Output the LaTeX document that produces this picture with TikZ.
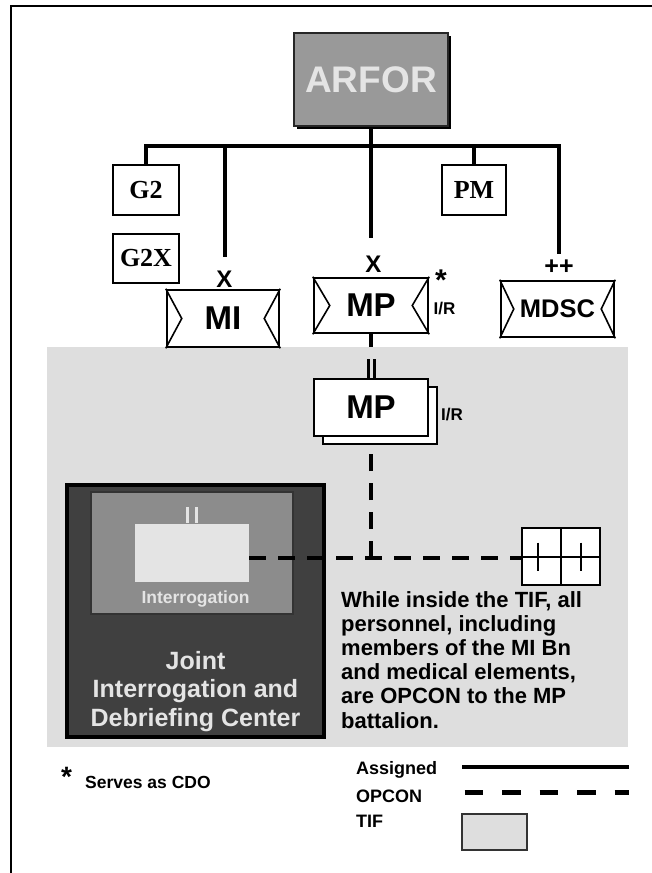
\documentclass[tikz,border=0pt]{standalone}
\usepackage{fontspec}
\setmainfont{Liberation Sans}
\newfontfamily\serifb{Liberation Serif}
\usetikzlibrary{calc}
\definecolor{tifgray}{HTML}{DEDEDE}
\definecolor{jidcdark}{HTML}{404040}
\definecolor{intgray}{HTML}{8C8C8C}
\definecolor{lightrect}{HTML}{E4E4E4}
\definecolor{textlight}{HTML}{E4E4E4}
\definecolor{arforgray}{HTML}{999999}
\newcommand\unitnotch[2]{%
  \draw[line width=1.6pt] (#1.north west) -- ($(#1.west)+(#2,0)$) -- (#1.south west);
  \draw[line width=1.6pt] (#1.north east) -- ($(#1.east)-(#2,0)$) -- (#1.south east);}
\tikzset{
  assigned/.style={line width=4pt, black},
  opcon/.style={line width=4.5pt, black, dash pattern=on 17pt off 12pt},
  staffbox/.style={draw, line width=2pt, fill=white, minimum width=66pt, minimum height=50pt, inner sep=0pt, font=\serifb\bfseries\fontsize{26}{26}\selectfont},
  unitbox/.style={draw, line width=2.5pt, fill=white, minimum width=113pt, minimum height=56pt, inner sep=0pt, font=\bfseries\fontsize{33}{33}\selectfont},
  lbl/.style={inner sep=0pt, font=\bfseries\fontsize{#1}{#1}\selectfont},
}
\begin{document}
\begin{tikzpicture}[x=1pt, y=-1pt]
\useasboundingbox (0,0) rectangle (652,873);
% TIF region
\fill[tifgray] (47,347) rectangle (628,747);
% frame
\draw[line width=2pt] (11,873) -- (11,6) -- (652,6);
% ARFOR
\fill[black] (297,36) rectangle (451,129);
\node (arfor) [draw=black!85, line width=2pt, fill=arforgray, minimum width=154pt, minimum height=93pt, inner sep=0pt, text=textlight, font=\bfseries\fontsize{37}{37}\selectfont] at (371,79.5) {ARFOR};
% staff
\node (g2) [staffbox] at (146,190) {G2};
\node (g2x) [staffbox, minimum height=49pt] at (146,258.5) {G2X};
\node (pm) [staffbox, minimum width=64pt] at (474,190) {PM};
% units
\node (mi) [unitbox, minimum width=112pt, minimum height=57pt] at (223,318.5) {MI};
\unitnotch{mi}{16}
\node (mp) [unitbox, minimum width=114pt, minimum height=55pt] at (371,305.5) {MP};
\unitnotch{mp}{17}
\node (mdsc) [unitbox, font=\bfseries\fontsize{25.5}{25.5}\selectfont] at (557.5,309) {MDSC};
\unitnotch{mdsc}{14}
% echelon labels
\node (xmi) [lbl=24] at (224.5,279) {X};
\node (xmp) [lbl=24] at (373.5,264) {X};
\node (ppmdsc) [lbl=25] at (559,267) {++};
\node (starmp) [lbl=30, anchor=north] at (441,270) {*};
\node (irmp) [lbl=17] at (444.5,309) {I/R};
% connectors (assigned)
\coordinate (bar) at (371,146);
\coordinate (miend) at (225,257);
\coordinate (mpend) at (371,238);
\coordinate (mdscend) at (559,254);
\coordinate (graytop) at (371,347);
\draw[assigned] (g2.north) -- (g2.north |- bar) -- (bar -| mdscend) -- (mdscend);
\draw[assigned] (bar -| miend) -- (miend);
\draw[assigned] (arfor.south) -- (mpend);
\draw[assigned] (bar -| pm.north) -- (pm.north);
\draw[assigned] (mp.south) -- (mp.south |- graytop);
% lower MP (stacked)
\node (mp2back) [unitbox, minimum width=114pt, minimum height=57pt] at (380,415.5) {};
\node (mp2) [unitbox, minimum width=114pt, minimum height=57pt] at (371,407.5) {MP};
\fill ($(mp2.north)+(-4.5,-19)$) rectangle ($(mp2.north)+(-1.2,0)$);
\fill ($(mp2.north)+(1.5,-19)$) rectangle ($(mp2.north)+(4.8,0)$);
\node (irmp2) [lbl=17] at (452,415) {I/R};
% JIDC
\node (jidc) [draw=black, line width=4pt, fill=jidcdark, minimum width=257pt, minimum height=252pt, inner sep=0pt] at (195.5,611) {};
\node (intbox) [draw=black!80, line width=1.5pt, fill=intgray, minimum width=202pt, minimum height=122pt, inner sep=0pt] at (192,553) {};
\node (intr) [fill=lightrect, minimum width=114pt, minimum height=58pt, inner sep=0pt] at (192,553) {};
\fill[textlight] ($(intr.north)+(-6,-17)$) rectangle ($(intr.north)+(-2.7,-1)$);
\fill[textlight] ($(intr.north)+(2.5,-17)$) rectangle ($(intr.north)+(5.8,-1)$);
\node (intlabel) [lbl=17.5, anchor=base, text=textlight] at (195.5,603) {Interrogation};
\node (jidclabel) [inner sep=0pt, anchor=north, align=center, text=textlight, font=\bfseries\fontsize{25}{28.5}\selectfont] at (195.5,651) {Joint\\Interrogation and\\Debriefing Center};
% TIF symbol (right)
\node (tif) [draw, line width=2pt, fill=white, minimum width=78pt, minimum height=57pt, inner sep=0pt] at (561,556.5) {};
\draw[line width=2pt] (tif.north) -- (tif.south);
\draw[line width=2pt] (tif.west) -- (tif.east);
\draw[line width=2pt] ($(tif.center)+(-23,-14)$) -- ++(0,28);
\draw[line width=2pt] ($(tif.center)+(20,-14)$) -- ++(0,28);
% OPCON connectors
\coordinate (junc) at (371,558);
\draw[opcon] (junc) -- (junc |- mp2back.south);
\draw[opcon] (intr.east |- junc) -- (junc -| tif.west);
% statement
\node (note) [inner sep=0pt, anchor=north west, align=left, font=\bfseries\fontsize{22}{24.2}\selectfont] at (341,591) {While inside the TIF, all\\personnel, including\\members of the MI Bn\\and medical elements,\\are OPCON to the MP\\battalion.};
% legend
\node (legstar) [lbl=28, anchor=north] at (66.5,767) {*};
\node (cdo) [lbl=17.5, anchor=west] at (85,782) {Serves as CDO};
\node (assignedl) [lbl=18, anchor=base west] at (356,774) {Assigned};
\node (opconl) [lbl=18, anchor=base west] at (356,802) {OPCON};
\node (tifl) [lbl=18, anchor=base west] at (356,827) {TIF};
\coordinate (asA) at (462,767);
\coordinate (asB) at (629,767);
\coordinate (opA) at (464.5,792);
\coordinate (opB) at (629,792);
\draw[line width=3.3pt] (asA) -- (asB);
\draw[line width=5pt, dash pattern=on 18.75pt off 18.75pt] (opA) -- (opB);
\node (tiflegend) [draw=black!80, line width=2pt, fill=tifgray, minimum width=65pt, minimum height=36pt, inner sep=0pt] at (494.5,832) {};
\end{tikzpicture}
\end{document}
